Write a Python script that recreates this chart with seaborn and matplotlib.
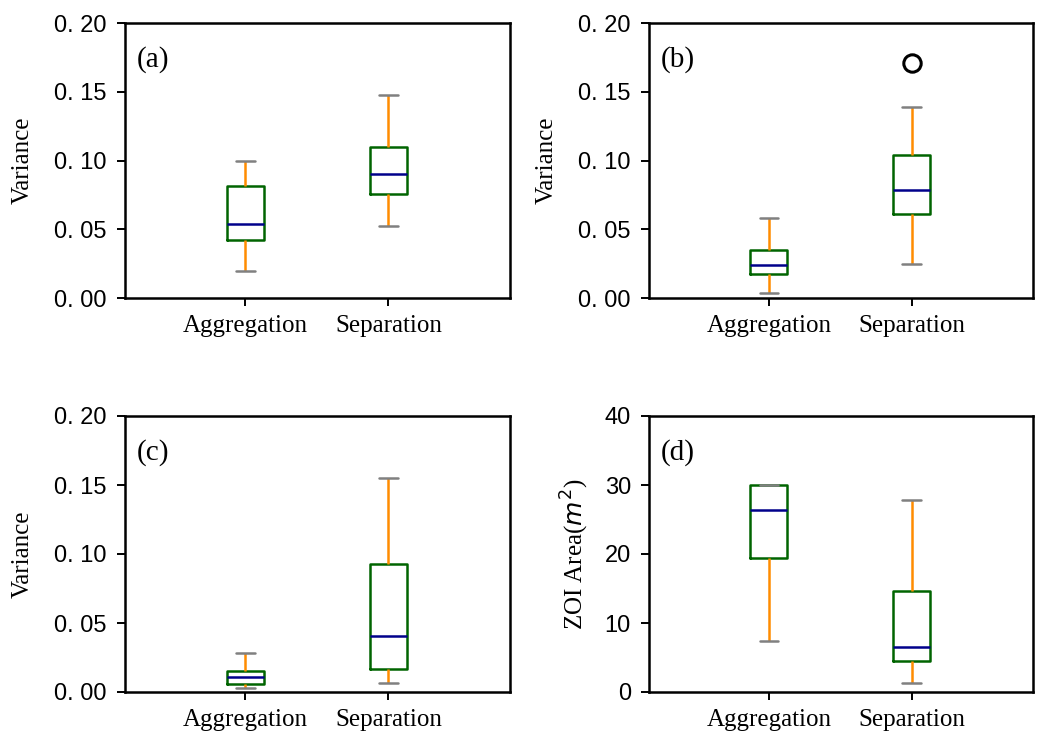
import numpy as np
import pandas as pd
import matplotlib
matplotlib.use("Agg")
import matplotlib.pyplot as plt
from matplotlib.ticker import FuncFormatter, MultipleLocator
import seaborn as sns

# Groups shown on every panel
groups = ["Aggregation", "Separation"]

# Five-number summaries per group: lower whisker, Q1, median, Q3, upper whisker
a_aggregation = [0.0196, 0.0422, 0.0541, 0.0815, 0.0994]
a_separation = [0.0524, 0.0754, 0.0899, 0.1098, 0.1479]

b_aggregation = [0.0036, 0.0172, 0.0238, 0.0352, 0.0584]
b_separation = [0.0250, 0.0613, 0.0783, 0.1038, 0.1392]
b_separation_outliers = [0.1711]

c_aggregation = [0.0031, 0.0060, 0.0109, 0.0155, 0.0285]
c_separation = [0.0068, 0.0164, 0.0404, 0.0931, 0.1550]

d_aggregation = [7.45, 19.35, 26.31, 30.0, 30.0]
d_separation = [1.35, 4.45, 6.53, 14.66, 27.81]

panel_tags = ["(a)", "(b)", "(c)", "(d)"]
y_labels = ["Variance", "Variance", "Variance", r"ZOI Area($m^2$)"]

sns.set_style("white")
plt.rcParams["font.family"] = ["Liberation Sans", "DejaVu Sans"]
plt.rcParams["mathtext.fontset"] = "dejavusans"
for key in ("text.color", "axes.labelcolor", "xtick.color", "ytick.color"):
    plt.rcParams[key] = "black"

SERIF = "Liberation Serif"

fig = plt.figure(figsize=(10.4, 7.33), dpi=100)
W, H = 1040, 733
# axes boxes in pixel space: left, top, right, bottom
boxes_px = [(125, 23, 510, 298), (649, 23, 1033, 298),
            (125, 416, 510, 692), (649, 416, 1033, 692)]

panels = [
    (a_aggregation, a_separation, [], (0, 0.20), 0.05, "var"),
    (b_aggregation, b_separation, b_separation_outliers, (0, 0.20), 0.05, "var"),
    (c_aggregation, c_separation, [], (0, 0.20), 0.05, "var"),
    (d_aggregation, d_separation, [], (0, 40), 10, "int"),
]

line_w = 1.8
for i, ((agg, sep, outl, ylim, step, kind), (l, t, r, b)) in enumerate(zip(panels, boxes_px)):
    ax = fig.add_axes([l / W, 1 - b / H, (r - l) / W, (b - t) / H])
    df = pd.DataFrame({
        "group": [groups[0]] * len(agg) + [groups[1]] * len(sep),
        "value": agg + sep,
    })
    sns.boxplot(
        data=df, x="group", y="value", order=groups, ax=ax,
        width=0.26, whis=np.inf, fill=False, linewidth=line_w,
        boxprops=dict(color="darkgreen", linewidth=line_w),
        whiskerprops=dict(color="darkorange", linewidth=line_w),
        capprops=dict(color="gray", linewidth=line_w),
        medianprops=dict(color="darkblue", linewidth=line_w),
    )
    if outl:
        ax.plot([1] * len(outl), outl, linestyle="none", marker="o",
                markersize=12.5, markerfacecolor="none",
                markeredgecolor="black", markeredgewidth=2.2)

    ax.set_xlim(-0.84, 1.85)
    ax.set_ylim(*ylim)
    ax.yaxis.set_major_locator(MultipleLocator(step))
    if kind == "var":
        ax.yaxis.set_major_formatter(FuncFormatter(lambda v, p: f"{v:.2f}".replace(".", ". ")))
    else:
        ax.yaxis.set_major_formatter(FuncFormatter(lambda v, p: f"{v:.0f}"))

    ax.set_xlabel("")
    ax.set_ylabel(y_labels[i], fontsize=18, fontfamily=SERIF)
    ax.yaxis.set_label_coords(-0.237 if kind == "var" else -0.152, 0.5)

    for s in ax.spines.values():
        s.set_visible(True)
        s.set_color("black")
        s.set_linewidth(1.8)
    ax.tick_params(axis="both", direction="out", length=6, width=1.4,
                   color="black", bottom=True, left=True)
    ax.tick_params(axis="y", labelsize=17, pad=7)
    ax.tick_params(axis="x", labelsize=18, pad=6)
    for lab in ax.get_xticklabels():
        lab.set_fontfamily(SERIF)

    ax.text(0.03, 0.915, panel_tags[i], transform=ax.transAxes,
            ha="left", va="top", fontsize=21, fontfamily=SERIF)

fig.savefig("out.png", dpi=100)
